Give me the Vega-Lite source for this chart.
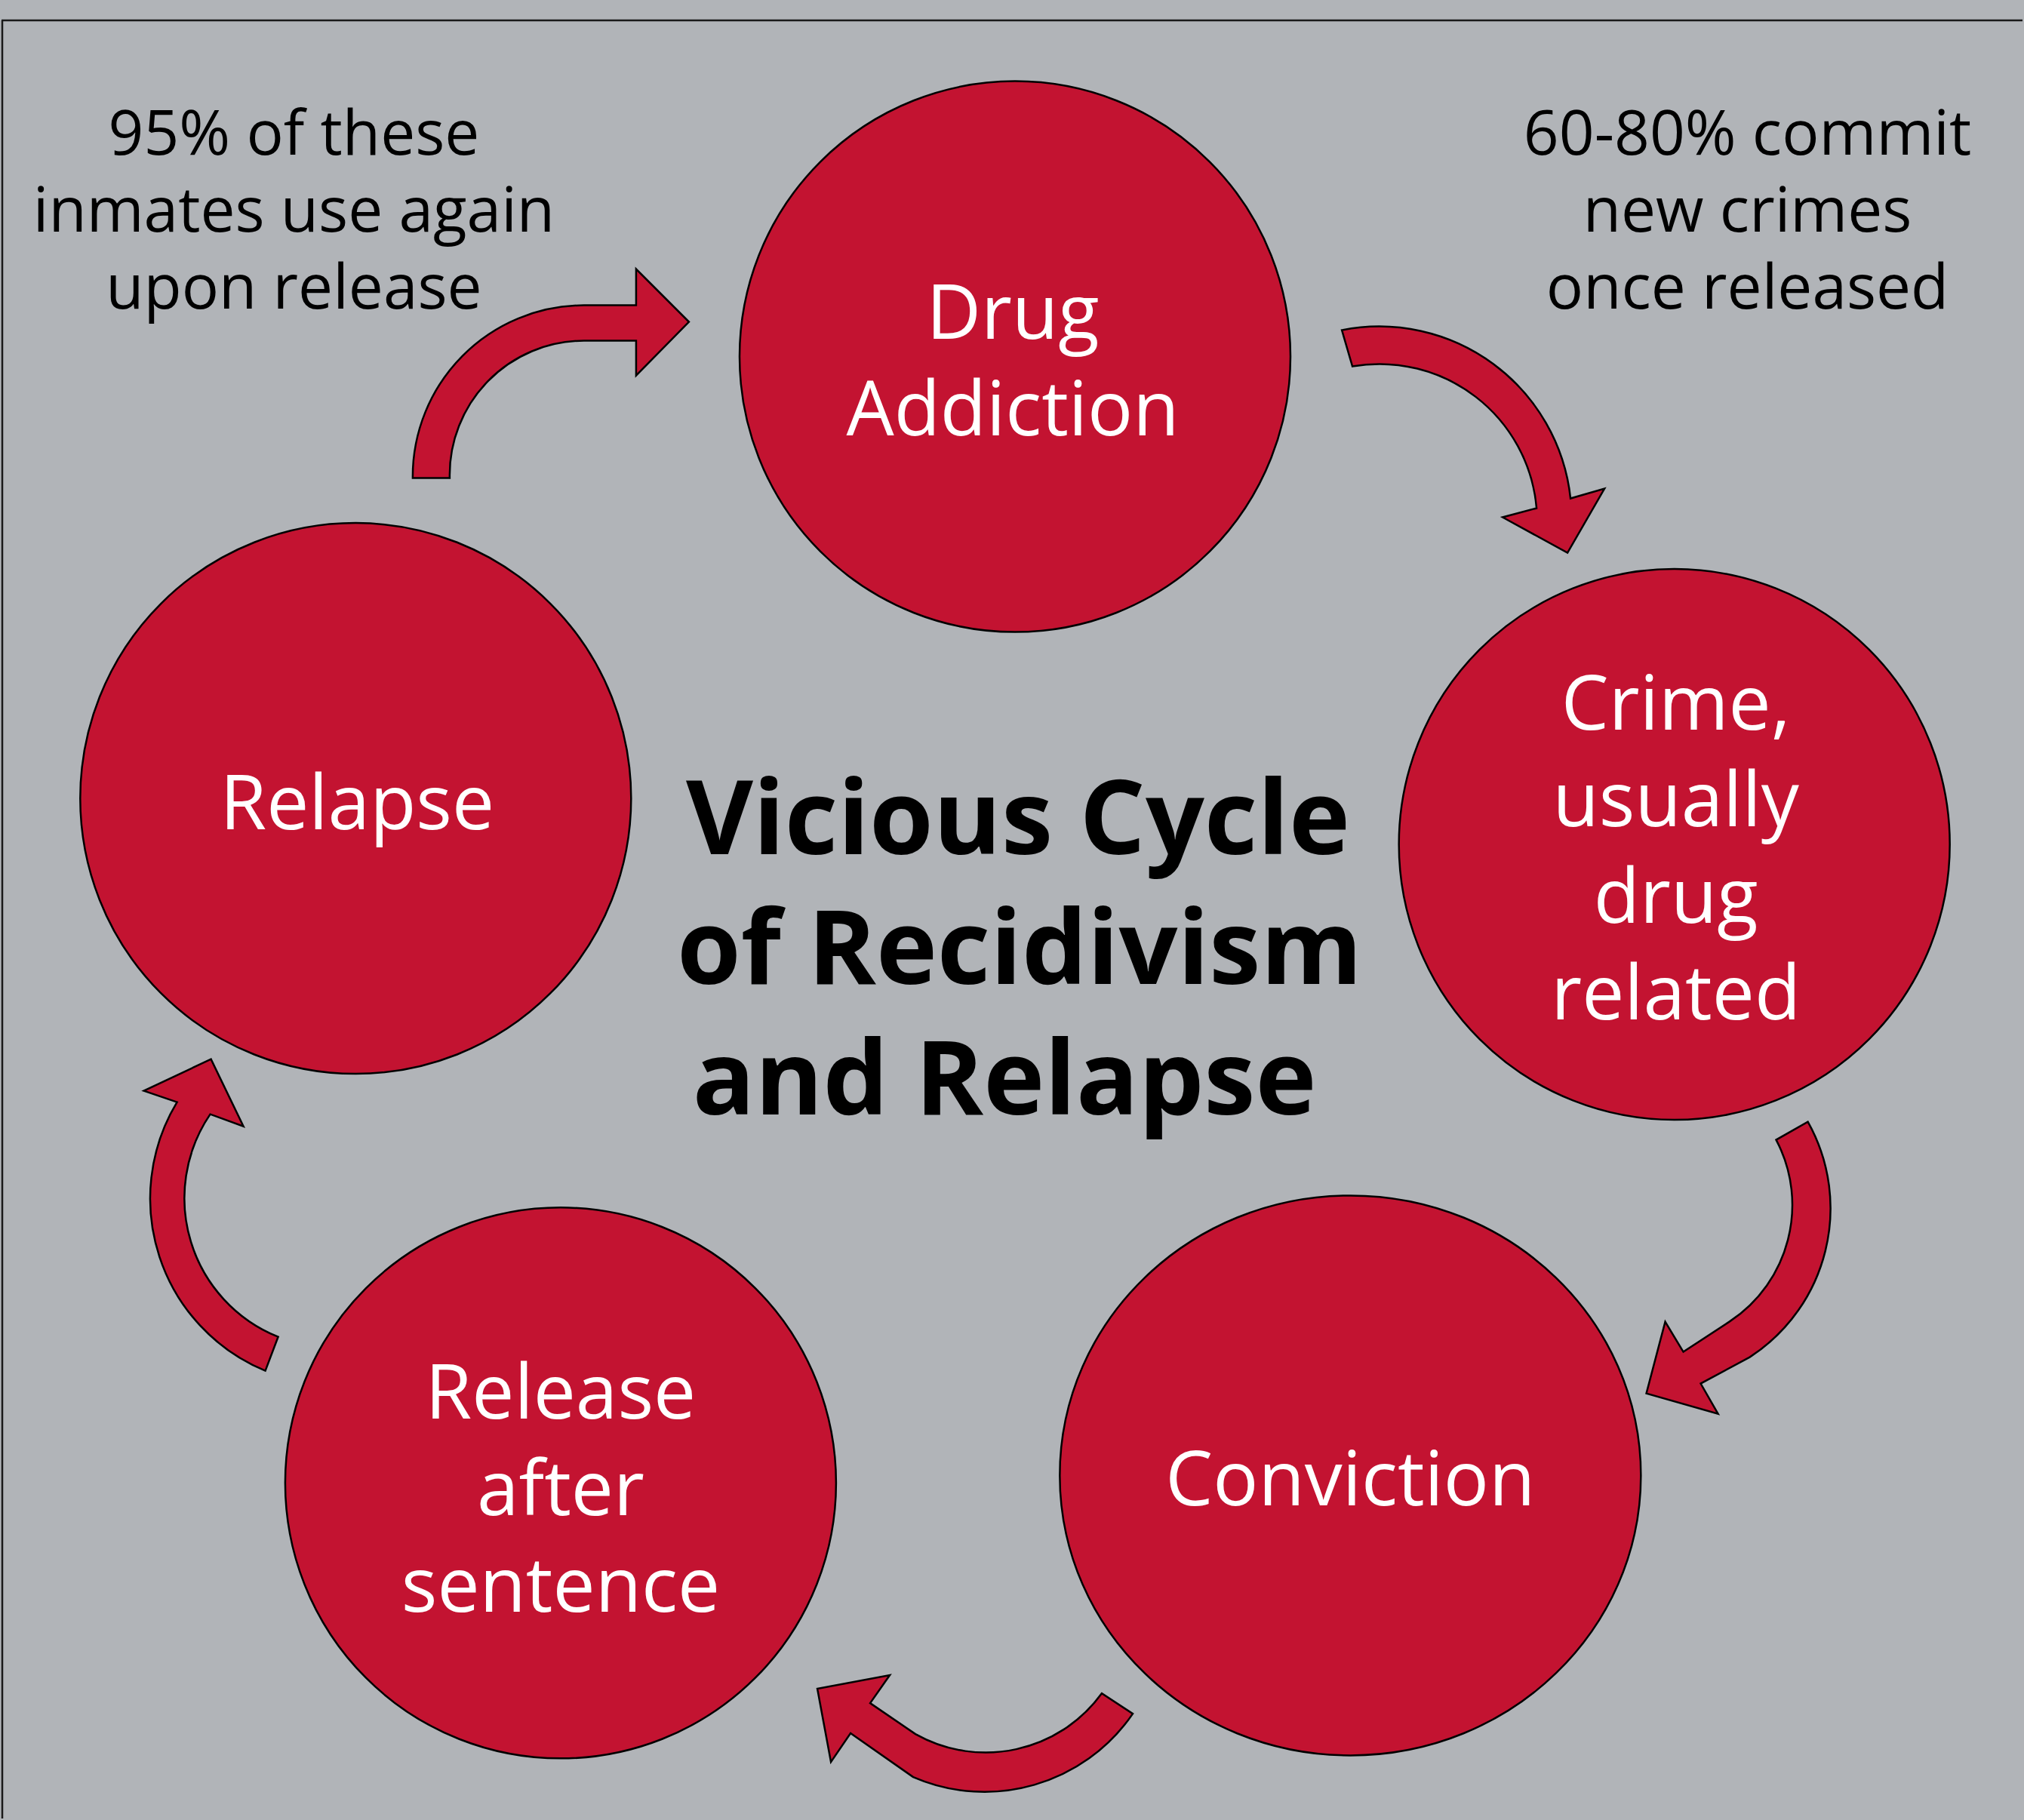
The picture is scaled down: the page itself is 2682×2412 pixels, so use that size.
{
  "$schema": "https://vega.github.io/schema/vega-lite/v6.json",
  "width": 2682,
  "height": 2412,
  "padding": 0,
  "autosize": {"type": "fit", "contains": "padding"},
  "background": "#b1b4b8",
  "config": {"view": {"stroke": null}},
  "datasets": {
    "frame": [
      {"part": "top", "x": 0, "y": 27, "x2": 2682, "y2": 27},
      {"part": "left", "x": 1, "y": 27, "x2": 1, "y2": 2412}
    ],
    "arrows": [
      {"step": "Relapse to Drug Addiction", "x": 730, "y": 500},
      {"step": "Drug Addiction to Crime", "x": 1950, "y": 580},
      {"step": "Crime to Conviction", "x": 2300, "y": 1680},
      {"step": "Conviction to Release", "x": 1300, "y": 2300},
      {"step": "Release to Relapse", "x": 280, "y": 1620}
    ],
    "nodes": [
      {"node": "Drug Addiction", "x": 1345, "y": 473},
      {"node": "Crime", "x": 2220, "y": 1120},
      {"node": "Conviction", "x": 1790, "y": 1957},
      {"node": "Release", "x": 742, "y": 1967},
      {"node": "Relapse", "x": 470, "y": 1059}
    ],
    "labels": [
      {"node": "Drug Addiction", "lines": ["Drug", "Addiction"], "x": 1342, "y": 449},
      {"node": "Crime", "lines": ["Crime,", "usually", "drug", "related"], "x": 2222, "y": 968},
      {"node": "Conviction", "lines": ["Conviction"], "x": 1790, "y": 1997},
      {"node": "Release", "lines": ["Release", "after", "sentence"], "x": 742, "y": 1882},
      {"node": "Relapse", "lines": ["Relapse"], "x": 472, "y": 1100}
    ],
    "notes": [
      {"lines": ["95% of these", "inmates use again", "upon release"], "x": 388, "y": 205},
      {"lines": ["60-80% commit", "new crimes", "once released"], "x": 2317, "y": 205}
    ],
    "title": [
      {"line": "Vicious Cycle", "x": 1349, "y": 1133},
      {"line": "of Recidivism", "x": 1351, "y": 1305},
      {"line": "and Relapse", "x": 1331, "y": 1478}
    ]
  },
  "layer": [
    {
      "data": {"name": "frame"},
      "mark": {"type": "rule", "stroke": "#1a1a1a", "strokeWidth": 2.5},
      "encoding": {
        "x": {"field": "x", "type": "quantitative", "scale": {"domain": [0, 2682], "nice": false, "zero": false}, "axis": null},
        "y": {"field": "y", "type": "quantitative", "scale": {"domain": [0, 2412], "nice": false, "zero": false, "reverse": true}, "axis": null},
        "x2": {"field": "x2"},
        "y2": {"field": "y2"}
      }
    },
    {
      "data": {"name": "arrows"},
      "mark": {"type": "point", "filled": true, "fill": "#c31331", "stroke": "#000000", "strokeWidth": 2.5, "opacity": 1, "fillOpacity": 1, "strokeOpacity": 1, "size": 4},
      "encoding": {
        "x": {"field": "x", "type": "quantitative", "axis": null},
        "y": {"field": "y", "type": "quantitative", "axis": null},
        "shape": {
          "field": "step", "type": "nominal", "legend": null,
          "scale": {
            "domain": ["Relapse to Drug Addiction", "Drug Addiction to Crime", "Crime to Conviction", "Conviction to Release", "Release to Relapse"],
            "range": [
              "M -184 134 A 227 227 0 0 1 43 -95 L 112 -95 L 112 -143 L 182 -73 L 112 -2 L 112 -48 L 43 -48 A 178 178 0 0 0 -135 134 Z",
              "M -171 -142 A 255 255 0 0 1 132 81 L 177 68 L 128 153 L 42 106 L 87 94 A 209 209 0 0 0 -157 -94 Z",
              "M 97 -192 A 235 235 0 0 1 20 120 L -45 155 L -22 195 L -117 168 L -92 73 L -68 113 L -7 73 A 185 185 0 0 0 55 -168 Z",
              "M 201 -27 A 238 238 0 0 1 -90 57 L -173 -1 L -199 37 L -217 -60 L -121 -78 L -147 -41 L -87 0 A 190 190 0 0 0 160 -54 Z",
              "M 70 198 A 247 247 0 0 1 -47 -158 L -91 -173 L -2 -215 L 41 -126 L -3 -142 A 198 198 0 0 0 87 153 Z"
            ]
          }
        }
      }
    },
    {
      "data": {"name": "nodes"},
      "transform": [{"filter": "datum.node !== 'Conviction'"}],
      "mark": {"type": "point", "shape": "circle", "filled": true, "fill": "#c31331", "stroke": "#000000", "strokeWidth": 2.5, "opacity": 1, "fillOpacity": 1, "strokeOpacity": 1, "size": 532900},
      "encoding": {
        "x": {"field": "x", "type": "quantitative", "axis": null},
        "y": {"field": "y", "type": "quantitative", "axis": null}
      }
    },
    {
      "data": {"name": "nodes"},
      "transform": [{"filter": "datum.node === 'Conviction'"}],
      "mark": {"type": "point", "shape": "M -385 0 A 385 371 0 1 1 385 0 A 385 371 0 1 1 -385 0 Z", "filled": true, "fill": "#c31331", "stroke": "#000000", "strokeWidth": 2.5, "opacity": 1, "fillOpacity": 1, "strokeOpacity": 1, "size": 4},
      "encoding": {
        "x": {"field": "x", "type": "quantitative", "axis": null},
        "y": {"field": "y", "type": "quantitative", "axis": null}
      }
    },
    {
      "data": {"name": "labels"},
      "mark": {"type": "text", "font": "Open Sans", "fontSize": 100, "lineHeight": 128, "fill": "#ffffff", "align": "center", "baseline": "alphabetic"},
      "encoding": {
        "x": {"field": "x", "type": "quantitative", "axis": null},
        "y": {"field": "y", "type": "quantitative", "axis": null},
        "text": {"field": "lines"}
      }
    },
    {
      "data": {"name": "notes"},
      "mark": {"type": "text", "font": "Open Sans", "fontSize": 82, "lineHeight": 102, "fill": "#000000", "align": "center", "baseline": "alphabetic"},
      "encoding": {
        "x": {"field": "x", "type": "quantitative", "axis": null},
        "y": {"field": "y", "type": "quantitative", "axis": null},
        "text": {"field": "lines"}
      }
    },
    {
      "data": {"name": "title"},
      "mark": {"type": "text", "font": "Open Sans", "fontSize": 137, "fontWeight": "bold", "fill": "#000000", "align": "center", "baseline": "alphabetic"},
      "encoding": {
        "x": {"field": "x", "type": "quantitative", "axis": null},
        "y": {"field": "y", "type": "quantitative", "axis": null},
        "text": {"field": "line"}
      }
    }
  ]
}
